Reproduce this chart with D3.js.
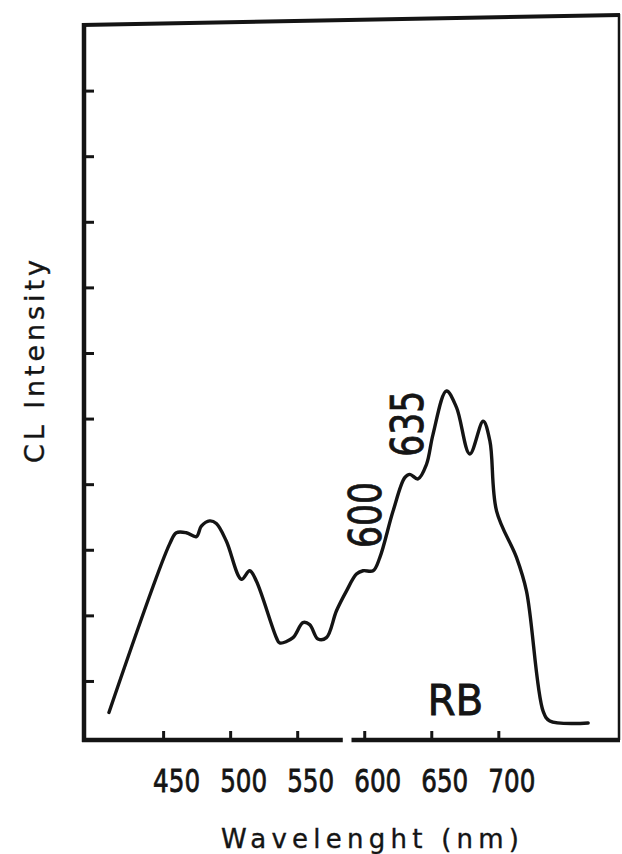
<!DOCTYPE html>
<html>
<head>
<meta charset="utf-8">
<script src="https://cdn.jsdelivr.net/npm/d3@7"></script>
<style>
  html, body { margin: 0; padding: 0; background: #fff; }
  svg { display: block; }
  text { fill: #151515; font-family: "DejaVu Sans", sans-serif; }
</style>
</head>
<body>
<svg id="chart" width="622" height="854"></svg>
<script>
// ---- data ----
const wavelengths = [409.6, 454.9, 459.9, 467.3, 474.8, 478.5, 484.7, 489.7, 497.2, 508.4,
  514.6, 519.6, 534.5, 536.9, 546.9, 554.3, 559.3, 565.5, 571.8, 579.3,
  586.7, 594.2, 599.1, 606.6, 611.6, 621.5, 630.2, 634.0, 640.1, 646.4,
  651.3, 661.3, 668.8, 678.7, 688.7, 693.7, 698.7, 713.6, 721.0, 733.4,
  738.4, 767.0];
const intensity = [0.52, 3.09, 3.26, 3.26, 3.20, 3.36, 3.44, 3.40, 3.13, 2.55,
  2.68, 2.52, 1.66, 1.58, 1.66, 1.89, 1.86, 1.64, 1.66, 2.07,
  2.37, 2.63, 2.68, 2.68, 2.88, 3.59, 4.10, 4.15, 4.08, 4.30,
  4.76, 5.42, 5.17, 4.46, 4.96, 4.66, 3.59, 2.88, 2.37, 0.54,
  0.39, 0.36];
const xTickValues = [450, 500, 550, 600, 650, 700];
const yTickValues = [1, 2, 3, 4, 5, 6, 7, 8, 9, 10];
const peakLabels = ["600", "635"];
const peakWl = [600, 635];
const peakV = [3.53, 4.92];
const sampleLabel = "RB";
const xTitle = "Wavelenght (nm)";
const yTitle = "CL Intensity";

// ---- layout ----
const mLeft = 84, mRight = 619, mTop = 25, mBottom = 740;
const svg = d3.select("#chart");

const x = d3.scaleLinear().domain([391, 790]).range([mLeft, mRight]);
const y = d3.scaleLinear().domain([0.1, 11]).range([mBottom, mTop]);

const ink = "#141414";

// frame: top (slightly slanted like the scan) and right side
svg.append("path")
  .attr("d", `M${mLeft - 2},${mTop} L${mRight + 1},${mTop - 10}`)
  .attr("stroke", ink).attr("stroke-width", 4).attr("fill", "none");
svg.append("line")
  .attr("x1", mRight).attr("x2", mRight).attr("y1", mTop - 11).attr("y2", mBottom)
  .attr("stroke", ink).attr("stroke-width", 2.5);

// left axis (ticks inward, no labels)
const gy = svg.append("g").attr("transform", `translate(${mLeft},0)`)
  .call(d3.axisLeft(y).tickValues(yTickValues).tickSize(-10).tickFormat(""));
gy.select(".domain").remove();
gy.selectAll(".tick line").attr("stroke", ink).attr("stroke-width", 3);
svg.append("line")
  .attr("x1", mLeft).attr("x2", mLeft).attr("y1", mTop - 2).attr("y2", mBottom + 2)
  .attr("stroke", ink).attr("stroke-width", 4.5);

// bottom axis (ticks inward, with a small break near 590 nm)
const gx = svg.append("g").attr("transform", `translate(0,${mBottom})`)
  .call(d3.axisBottom(x).tickValues(xTickValues).tickSize(-9).tickPadding(0));
gx.select(".domain").remove();
gx.selectAll(".tick line").attr("stroke", ink).attr("stroke-width", 3);
gx.selectAll(".tick text")
  .attr("y", 52).attr("dy", 0).attr("dx", 13)
  .attr("font-size", 32)
  .attr("font-family", "'DejaVu Sans', sans-serif")
  .attr("textLength", 47).attr("lengthAdjust", "spacingAndGlyphs")
  .style("fill", ink).style("stroke", ink).style("stroke-width", 0.8);
const breakA = x(584), breakB = x(590.5);
svg.append("line").attr("x1", mLeft - 2).attr("x2", breakA).attr("y1", mBottom).attr("y2", mBottom)
  .attr("stroke", ink).attr("stroke-width", 4.5);
svg.append("line").attr("x1", breakB).attr("x2", mRight + 1).attr("y1", mBottom).attr("y2", mBottom)
  .attr("stroke", ink).attr("stroke-width", 4.5);

// spectrum
const line = d3.line()
  .x((d, i) => x(wavelengths[i]))
  .y((d, i) => y(intensity[i]))
  .curve(d3.curveCatmullRom.alpha(0.5));
svg.append("path")
  .datum(intensity)
  .attr("d", line)
  .attr("fill", "none")
  .attr("stroke", ink)
  .attr("stroke-width", 3.4)
  .attr("stroke-linejoin", "round")
  .attr("stroke-linecap", "round");

// peak annotations (rotated); baseline offsets to the right of the mark
const peakDx = [17, 12];
peakLabels.forEach((t, i) => {
  svg.append("text")
    .attr("transform", `translate(${x(peakWl[i]) + peakDx[i]},${y(peakV[i])}) rotate(-90)`)
    .attr("text-anchor", "middle")
    .attr("font-size", 44)
    .attr("textLength", 66).attr("lengthAdjust", "spacingAndGlyphs")
    .style("stroke", ink).style("stroke-width", 0.8)
    .text(t);
});

// sample label
svg.append("text")
  .attr("x", x(668)).attr("y", 715)
  .attr("text-anchor", "middle")
  .attr("font-size", 42)
  .attr("textLength", 56).attr("lengthAdjust", "spacingAndGlyphs")
  .style("stroke", ink).style("stroke-width", 0.8)
  .text(sampleLabel);

// axis titles
svg.append("text")
  .attr("x", 221).attr("y", 848)
  .attr("font-size", 26)
  .attr("textLength", 298).attr("lengthAdjust", "spacing")
  .style("stroke", ink).style("stroke-width", 0.35)
  .text(xTitle);
svg.append("text")
  .attr("transform", `translate(44,463) rotate(-90)`)
  .attr("font-size", 27)
  .attr("textLength", 203).attr("lengthAdjust", "spacing")
  .style("stroke", ink).style("stroke-width", 0.35)
  .text(yTitle);
</script>
</body>
</html>
